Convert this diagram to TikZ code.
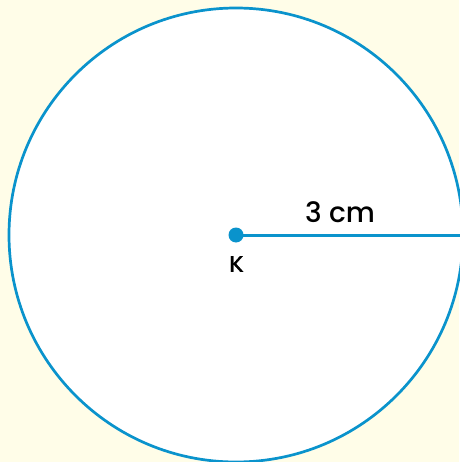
\documentclass[tikz,border=0pt]{standalone}
\usepackage{fontspec}
\setmainfont{Poppins}[UprightFont=* Medium]
\newfontfamily\cyrfont{Open Sans}[FakeBold=1.2]
\definecolor{bgyellow}{HTML}{FFFDE8}
\definecolor{lineblue}{HTML}{0A93CC}
\begin{document}
\begin{tikzpicture}[x=1pt,y=-1pt,
  outline/.style={draw=lineblue,line width=2.7pt,fill=white},
  radiusline/.style={draw=lineblue,line width=3pt},
  lbl/.style={font=\fontsize{28}{32}\selectfont,inner sep=0pt}]
\fill[bgyellow] (0,0) rectangle (459,462);
\useasboundingbox (0,0) rectangle (459,462);
\coordinate (K) at (236,235);
\coordinate (E) at (463,235);
\draw[outline] (K) circle (227);
\draw[radiusline] (K) -- (E);
\fill[lineblue] (K) circle (7.5);
\node[lbl] (r) at (340,212) {3 cm};
\node[lbl,font=\cyrfont\fontsize{29}{32}\selectfont] (k) at (236,264) {к};
\end{tikzpicture}
\end{document}
